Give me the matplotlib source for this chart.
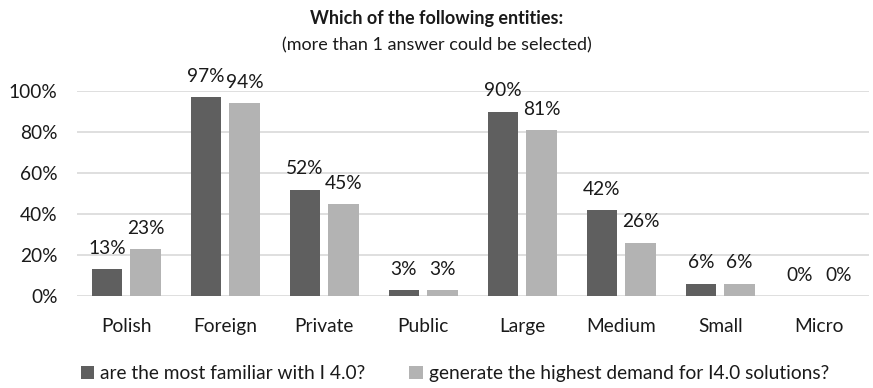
import matplotlib.pyplot as plt
import numpy as np

categories = ["Polish", "Foreign", "Private", "Public", "Large", "Medium", "Small", "Micro"]
familiar = [13, 97, 52, 3, 90, 42, 6, 0]
demand = [23, 94, 45, 3, 81, 26, 6, 0]
series_names = ["are the most familiar with I 4.0?", "generate the highest demand for I4.0 solutions?"]
yticks = [0, 20, 40, 60, 80, 100]

plt.rcParams['font.family'] = ['Lato', 'DejaVu Sans']
text_color = "#1a1a1a"
fs = 13.8

fig = plt.figure(figsize=(8.73, 3.88), dpi=100)
ax = fig.add_axes([0.088, 0.237, 0.907, 0.528])

x = np.arange(len(categories))
w = 0.31
b1 = ax.bar(x - 0.195, familiar, w, color="#5f5f5f", label=series_names[0], zorder=3)
b2 = ax.bar(x + 0.195, demand, w, color="#b3b3b3", label=series_names[1], zorder=3)

# etykiety nad słupkami
for bars, vals in ((b1, familiar), (b2, demand)):
    for rect, v in zip(bars, vals):
        ax.text(rect.get_x() + rect.get_width() / 2, v + 6, f"{v}%",
                ha="center", va="bottom", fontsize=fs, color=text_color)

ax.set_xlim(-0.5, len(categories) - 0.5)
ax.set_ylim(0, 100)
ax.set_yticks(yticks)
ax.set_yticklabels([f"{t}%" for t in yticks])
ax.set_xticks(x)
ax.set_xticklabels(categories)
ax.tick_params(axis="both", length=0, labelsize=fs, colors=text_color)
ax.tick_params(axis="x", pad=16)
ax.tick_params(axis="y", pad=14)
ax.grid(axis="y", color="#d9d9d9", linewidth=1.2, zorder=0)
for s in ax.spines.values():
    s.set_visible(False)

fig.text(0.5, 0.953, "Which of the following entities:", ha="center", va="center",
         fontsize=13, fontweight="bold", color=text_color)
fig.text(0.5, 0.884, "(more than 1 answer could be selected)", ha="center", va="center",
         fontsize=13, color=text_color)

fig.legend(loc="center", bbox_to_anchor=(0.521, 0.037), ncol=2, frameon=False,
           fontsize=fs, handlelength=0.7, handleheight=0.7, handletextpad=0.3,
           columnspacing=2.3, labelcolor=text_color)

fig.savefig("out.png", dpi=100)
